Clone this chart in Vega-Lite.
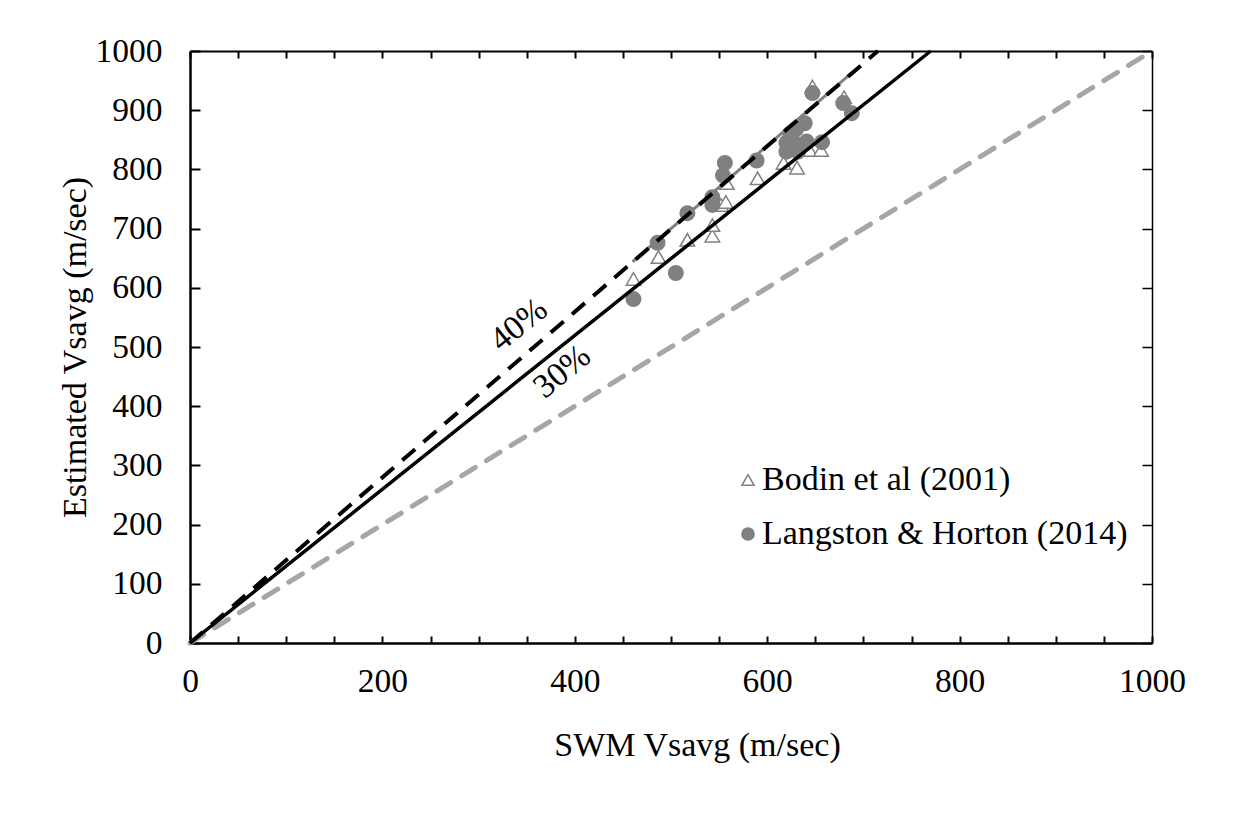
{
  "$schema": "https://vega.github.io/schema/vega-lite/v6.json",
  "width": 962,
  "height": 592,
  "autosize": {"type": "none"},
  "padding": {"left": 190, "top": 51, "right": 81, "bottom": 186},
  "background": "white",
  "config": {
    "view": {"stroke": null},
    "font": "Liberation Serif",
    "axis": {"grid": false, "domainColor": "black", "tickColor": "black", "labelColor": "black", "titleColor": "black", "labelFont": "Liberation Serif", "titleFont": "Liberation Serif", "titleFontWeight": "normal", "labelFontSize": 33.5, "titleFontSize": 34}
  },
  "datasets": {
    "pts": [
      {"series": "Bodin et al (2001)", "swm": 461, "est": 615},
      {"series": "Bodin et al (2001)", "swm": 487, "est": 652},
      {"series": "Bodin et al (2001)", "swm": 517, "est": 681},
      {"series": "Bodin et al (2001)", "swm": 543, "est": 688},
      {"series": "Bodin et al (2001)", "swm": 543, "est": 706},
      {"series": "Bodin et al (2001)", "swm": 552, "est": 740},
      {"series": "Bodin et al (2001)", "swm": 557, "est": 745},
      {"series": "Bodin et al (2001)", "swm": 558, "est": 777},
      {"series": "Bodin et al (2001)", "swm": 590, "est": 785},
      {"series": "Bodin et al (2001)", "swm": 617, "est": 811},
      {"series": "Bodin et al (2001)", "swm": 631, "est": 803},
      {"series": "Bodin et al (2001)", "swm": 625, "est": 845},
      {"series": "Bodin et al (2001)", "swm": 644, "est": 833},
      {"series": "Bodin et al (2001)", "swm": 656, "est": 833},
      {"series": "Bodin et al (2001)", "swm": 647, "est": 940},
      {"series": "Bodin et al (2001)", "swm": 680, "est": 922},
      {"series": "Langston & Horton (2014)", "swm": 461, "est": 581},
      {"series": "Langston & Horton (2014)", "swm": 486, "est": 676},
      {"series": "Langston & Horton (2014)", "swm": 505, "est": 625},
      {"series": "Langston & Horton (2014)", "swm": 517, "est": 726},
      {"series": "Langston & Horton (2014)", "swm": 543, "est": 740},
      {"series": "Langston & Horton (2014)", "swm": 543, "est": 753},
      {"series": "Langston & Horton (2014)", "swm": 554, "est": 790},
      {"series": "Langston & Horton (2014)", "swm": 556, "est": 811},
      {"series": "Langston & Horton (2014)", "swm": 589, "est": 815},
      {"series": "Langston & Horton (2014)", "swm": 620, "est": 830},
      {"series": "Langston & Horton (2014)", "swm": 620, "est": 845},
      {"series": "Langston & Horton (2014)", "swm": 624, "est": 861},
      {"series": "Langston & Horton (2014)", "swm": 626, "est": 850},
      {"series": "Langston & Horton (2014)", "swm": 630, "est": 868},
      {"series": "Langston & Horton (2014)", "swm": 632, "est": 830},
      {"series": "Langston & Horton (2014)", "swm": 639, "est": 878},
      {"series": "Langston & Horton (2014)", "swm": 641, "est": 847},
      {"series": "Langston & Horton (2014)", "swm": 657, "est": 846},
      {"series": "Langston & Horton (2014)", "swm": 647, "est": 929},
      {"series": "Langston & Horton (2014)", "swm": 679, "est": 912},
      {"series": "Langston & Horton (2014)", "swm": 688, "est": 895}
    ],
    "lines": [
      {"line": "1:1", "swm": 0, "est": 0},
      {"line": "1:1", "swm": 1000, "est": 1000},
      {"line": "40%", "swm": 0, "est": 0},
      {"line": "40%", "swm": 715, "est": 1000},
      {"line": "30%", "swm": 0, "est": 0},
      {"line": "30%", "swm": 770, "est": 1000},
      {"line": "trend", "swm": 460, "est": 644},
      {"line": "trend", "swm": 690, "est": 966}
    ],
    "labels": [
      {"text": "40%", "swm": 342, "est": 537},
      {"text": "30%", "swm": 387, "est": 458}
    ]
  },
  "layer": [
    {
      "data": {"name": "lines"},
      "transform": [{"filter": "datum.line === '1:1'"}],
      "mark": {"type": "line", "color": "#A6A6A6", "strokeWidth": 5, "strokeDash": [16, 13], "strokeCap": "round"},
      "encoding": {
        "x": {"field": "swm", "type": "quantitative", "scale": {"domain": [0, 1000], "nice": false},
          "axis": {"orient": "top", "labels": false, "title": null, "values": [0,50,100,150,200,250,300,350,400,450,500,550,600,650,700,750,800,850,900,950,1000], "tickSize": -7, "tickWidth": 2, "domainWidth": 2}},
        "y": {"field": "est", "type": "quantitative", "scale": {"domain": [0, 1000], "nice": false},
          "axis": {"orient": "right", "labels": false, "title": null, "values": [0,100,200,300,400,500,600,700,800,900,1000], "tickSize": -10, "tickWidth": 1.5, "domainWidth": 1.5}}
      }
    },
    {
      "data": {"name": "pts"},
      "mark": {"type": "point", "strokeWidth": 1.5, "opacity": 1, "size": 210},
      "encoding": {
        "x": {"field": "swm", "type": "quantitative",
          "axis": {"orient": "bottom", "format": "d", "values": [0,50,100,150,200,250,300,350,400,450,500,550,600,650,700,750,800,850,900,950,1000], "labelExpr": "datum.value % 200 === 0 ? datum.label : ''", "labelOverlap": false, "labelFlush": false, "tickSize": -7, "tickWidth": 2, "domainWidth": 2.5, "labelPadding": 29, "title": "SWM Vsavg (m/sec)", "titleX": 507, "titleY": 102, "titleBaseline": "middle", "titleAlign": "center"}},
        "y": {"field": "est", "type": "quantitative",
          "axis": {"orient": "left", "format": "d", "values": [0,100,200,300,400,500,600,700,800,900,1000], "labelOverlap": false, "labelFlush": false, "tickSize": -10, "tickWidth": 2, "domainWidth": 2.5, "labelPadding": 38, "title": "Estimated Vsavg (m/sec)", "titleX": -115, "titleY": 296, "titleAngle": -90, "titleBaseline": "middle", "titleAlign": "center"}},
        "shape": {"field": "series", "type": "nominal", "scale": {"domain": ["Bodin et al (2001)", "Langston & Horton (2014)"], "range": ["triangle-up", "circle"]},
          "legend": {"orient": "none", "legendX": 541, "legendY": 412, "title": null, "labelFontSize": 34, "labelFont": "Liberation Serif", "labelColor": "black", "labelLimit": 0, "symbolSize": 150, "symbolStrokeWidth": 1.5, "rowPadding": 20, "labelOffset": -3, "padding": 0}},
        "fill": {"field": "series", "type": "nominal", "scale": {"domain": ["Bodin et al (2001)", "Langston & Horton (2014)"], "range": ["white", "#808080"]}, "legend": {"orient": "none", "legendX": 541, "legendY": 412, "title": null, "labelFontSize": 34, "labelFont": "Liberation Serif", "labelColor": "black", "labelLimit": 0, "symbolSize": 150, "symbolStrokeWidth": 1.5, "rowPadding": 20, "labelOffset": -3, "padding": 0}},
        "stroke": {"field": "series", "type": "nominal", "scale": {"domain": ["Bodin et al (2001)", "Langston & Horton (2014)"], "range": ["#808080", "#808080"]}, "legend": {"orient": "none", "legendX": 541, "legendY": 412, "title": null, "labelFontSize": 34, "labelFont": "Liberation Serif", "labelColor": "black", "labelLimit": 0, "symbolSize": 150, "symbolStrokeWidth": 1.5, "rowPadding": 20, "labelOffset": -3, "padding": 0}}
      }
    },
    {
      "data": {"name": "lines"},
      "transform": [{"filter": "datum.line === 'trend'"}],
      "mark": {"type": "line", "color": "#808080", "strokeWidth": 3},
      "encoding": {
        "x": {"field": "swm", "type": "quantitative", "axis": null},
        "y": {"field": "est", "type": "quantitative", "axis": null}
      }
    },
    {
      "data": {"name": "lines"},
      "transform": [{"filter": "datum.line === '40%'"}],
      "mark": {"type": "line", "color": "black", "strokeWidth": 4, "strokeDash": [17, 11]},
      "encoding": {
        "x": {"field": "swm", "type": "quantitative", "axis": null},
        "y": {"field": "est", "type": "quantitative", "axis": null}
      }
    },
    {
      "data": {"name": "lines"},
      "transform": [{"filter": "datum.line === '30%'"}],
      "mark": {"type": "line", "color": "black", "strokeWidth": 3.5},
      "encoding": {
        "x": {"field": "swm", "type": "quantitative", "axis": null},
        "y": {"field": "est", "type": "quantitative", "axis": null}
      }
    },
    {
      "data": {"name": "labels"},
      "transform": [{"filter": "datum.text === '40%'"}],
      "mark": {"type": "text", "angle": -39, "fontSize": 34, "font": "Liberation Serif", "color": "black", "align": "center", "baseline": "middle"},
      "encoding": {
        "x": {"field": "swm", "type": "quantitative", "axis": null},
        "y": {"field": "est", "type": "quantitative", "axis": null},
        "text": {"field": "text"}
      }
    },
    {
      "data": {"name": "labels"},
      "transform": [{"filter": "datum.text === '30%'"}],
      "mark": {"type": "text", "angle": -40, "fontSize": 34, "font": "Liberation Serif", "color": "black", "align": "center", "baseline": "middle"},
      "encoding": {
        "x": {"field": "swm", "type": "quantitative", "axis": null},
        "y": {"field": "est", "type": "quantitative", "axis": null},
        "text": {"field": "text"}
      }
    }
  ],
  "resolve": {"axis": {"x": "independent", "y": "independent"}}
}
